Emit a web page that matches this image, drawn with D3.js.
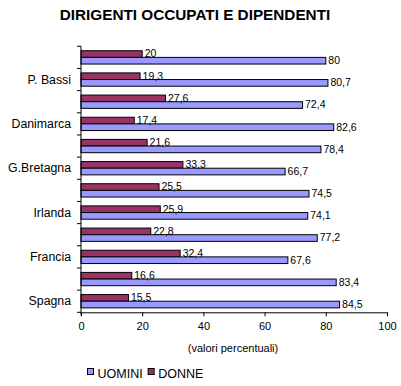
<!DOCTYPE html>
<html><head><meta charset="utf-8">
<script src="https://cdn.jsdelivr.net/npm/d3@7"></script>
<style>body{margin:0;background:#fff}svg{display:block;font-family:Arial,"Liberation Sans",sans-serif}</style>
</head><body><svg id="c" width="401" height="386"></svg>
<script>
// categories top to bottom (unlabelled groups are not readable in the original)
const categories = ["", "P. Bassi", "", "Danimarca", "", "G.Bretagna", "", "Irlanda", "", "Francia", "", "Spagna"];
const donne  = [20, 19.3, 27.6, 17.4, 21.6, 33.3, 25.5, 25.9, 22.8, 32.4, 16.6, 15.5];
const uomini = [80, 80.7, 72.4, 82.6, 78.4, 66.7, 74.5, 74.1, 77.2, 67.6, 83.4, 84.5];
const seriesNames = ["DONNE", "UOMINI"];
const legendNames = ["UOMINI", "DONNE"];
const xTicks = [0, 20, 40, 60, 80, 100];
const colors = {UOMINI: "#9999FF", DONNE: "#993366"};

(function () {
const svg = d3.select("#c");
const mLeft = 81, mRight = 387, mTop = 46.3, mBottom = 312.3;
const x = d3.scaleLinear().domain([0, 100]).range([mLeft, mRight]);
const idx = categories.map((c, i) => i);
const y = d3.scaleBand().domain(idx).range([mTop, mBottom]).paddingInner(0.4).paddingOuter(0.2);
const ySub = d3.scaleBand().domain(seriesNames).range([0, y.bandwidth()]);
const fmt = v => String(v).replace(".", ",");

svg.append("text").attr("x", 195).attr("y", 20).attr("text-anchor", "middle")
  .attr("font-size", 15.3).attr("font-weight", "bold").text("DIRIGENTI OCCUPATI E DIPENDENTI");

const data = seriesNames.map(s => ({name: s, values: s === "DONNE" ? donne : uomini}));

const g = svg.append("g");
data.forEach(s => {
  g.selectAll(null).data(s.values).enter().append("rect")
    .attr("x", x(0)).attr("y", (d, i) => y(i) + ySub(s.name))
    .attr("width", d => x(d) - x(0)).attr("height", ySub.bandwidth())
    .attr("fill", colors[s.name]).attr("stroke", "#000").attr("stroke-width", 1);
});
data.forEach(s => {
  g.selectAll(null).data(s.values).enter().append("text")
    .attr("x", d => x(d) + 2.5).attr("y", (d, i) => y(i) + ySub(s.name) + ySub.bandwidth() / 2 + 3.3)
    .attr("font-size", 10.5).attr("fill", "#000").text(d => fmt(d));
});

// y axis with ticks at band boundaries
const yAxis = svg.append("g");
yAxis.append("line").attr("x1", mLeft).attr("x2", mLeft).attr("y1", mTop).attr("y2", mBottom + 3).attr("stroke", "#000");
const step = y.step();
const bounds = d3.range(categories.length + 1).map(i => mTop + i * step);
yAxis.selectAll(null).data(bounds).enter().append("line")
  .attr("x1", mLeft - 4).attr("x2", mLeft).attr("y1", d => d).attr("y2", d => d).attr("stroke", "#000");
yAxis.selectAll(null).data(categories).enter().append("text")
  .attr("x", 71).attr("y", (d, i) => y(i) + y.bandwidth() / 2 + 4)
  .attr("text-anchor", "end").attr("font-size", 12.3).text(d => d);

// x axis
const xAxis = svg.append("g").attr("transform", `translate(0,${mBottom})`)
  .call(d3.axisBottom(x).tickValues(xTicks).tickSize(4).tickSizeOuter(0).tickPadding(6));
xAxis.select(".domain").attr("stroke", "#000");
xAxis.selectAll(".tick line").attr("stroke", "#000");
xAxis.selectAll("text").attr("font-size", 11).attr("font-family", "Arial, 'Liberation Sans', sans-serif").attr("fill", "#000");

svg.append("text").attr("x", 233).attr("y", 352).attr("text-anchor", "middle")
  .attr("font-size", 11).text("(valori percentuali)");

// legend
const leg = svg.append("g");
let lx = 87.5;
legendNames.forEach(n => {
  leg.append("rect").attr("x", lx).attr("y", 368.5).attr("width", 6).attr("height", 6)
    .attr("fill", colors[n]).attr("stroke", "#000");
  const t = leg.append("text").attr("x", lx + 10).attr("y", 377.5).attr("font-size", 12.5).text(n);
  lx += 10 + t.node().getComputedTextLength() + 5.5;
});
})();
</script></body></html>
